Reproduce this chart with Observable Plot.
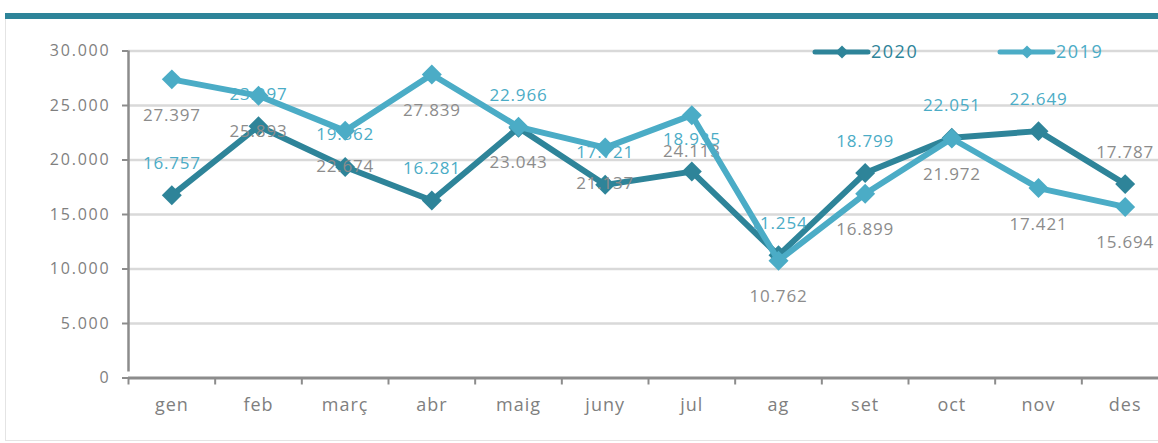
<!DOCTYPE html>
<html>
<head>
<meta charset="utf-8">
<script src="https://cdn.jsdelivr.net/npm/d3@7"></script>
<script src="https://cdn.jsdelivr.net/npm/@observablehq/plot@0.6"></script>
<style>
  html, body { margin: 0; padding: 0; background: #fff; overflow: hidden; }
  #wrap { position: relative; width: 1158px; height: 443px; overflow: hidden; font-family: "Open Sans", sans-serif; }
  #topbar { position: absolute; left: 5px; top: 13px; width: 1153px; height: 6px; background: #2E8499; }
  #lborder { position: absolute; left: 5px; top: 19px; width: 1px; height: 421px; background: #e4e4e4; }
  #bborder { position: absolute; left: 5px; top: 440px; width: 1153px; height: 1px; background: #e4e4e4; }
  #chart { position: absolute; left: 0; top: 0; }
  #legend { position: absolute; left: 0; top: 0; }
  svg text { letter-spacing: 0.8px; }
  g[aria-label="y-axis tick label"] text { letter-spacing: 1.8px; }
  g[aria-label="x-axis tick label"] text { letter-spacing: 1px; }
</style>
</head>
<body>
<div id="wrap">
  <div id="topbar"></div>
  <div id="lborder"></div>
  <div id="bborder"></div>
  <div id="chart"></div>
  <svg id="legend" width="1158" height="443"></svg>
</div>
<script>
const months = ["gen","feb","març","abr","maig","juny","jul","ag","set","oct","nov","des"];
const values2020 = [16757,23097,19362,16281,22966,17721,18935,11254,18799,22051,22649,17787];
const values2019 = [27397,25893,22674,27839,23043,21137,24113,10762,16899,21972,17421,15694];
const yTicks = [0,5000,10000,15000,20000,25000,30000];
const seriesNames = ["2020","2019"];

const dark = "#2E8499";
const light = "#4BACC6";
const grayLabel = "#8c8c8c";
const axisGray = "#7f7f7f";

const fmt = n => d3.format(",")(n).replace(/,/g, ".");

const rows = months.map((m, i) => ({m, i, x: i + 0.5, v2020: values2020[i], v2019: values2019[i]}));

const chart = Plot.plot({
  width: 1158,
  height: 443,
  marginTop: 50.5,
  marginBottom: 65.5,
  marginLeft: 128,
  marginRight: 0,
  style: {fontFamily: "'Open Sans', sans-serif", background: "transparent", overflow: "visible"},
  x: {type: "linear", domain: [0, 12], range: [128, 1168]},
  y: {domain: [0, 30000]},
  marks: [
    Plot.ruleY(yTicks.filter(t => t > 0), {stroke: "#d9d9d9", strokeWidth: 2.5}),
    Plot.ruleX([0], {y1: 0, y2: 30000, insetTop: -6, stroke: "#8c8c8c", strokeWidth: 2.5}),
    Plot.ruleY([0], {stroke: "#8c8c8c", strokeWidth: 3}),
    Plot.axisY({ticks: yTicks, tickSize: 6, tickPadding: 12, tickFormat: fmt, fontSize: 16,
      stroke: "#8c8c8c", strokeWidth: 2, fill: axisGray, label: null}),
    Plot.axisX({ticks: d3.range(0, 12), tickSize: 7, tickFormat: () => "", stroke: "#8c8c8c", strokeWidth: 2, label: null}),
    Plot.axisX({ticks: d3.range(0, 12).map(i => i + 0.5), tickSize: 0, tickPadding: 20,
      tickFormat: d => months[Math.floor(d)], fontSize: 18, fill: axisGray, label: null}),
    Plot.line(rows, {x: "x", y: "v2020", stroke: dark, strokeWidth: 6, strokeLinejoin: "round"}),
    Plot.dot(rows, {x: "x", y: "v2020", symbol: "diamond2", r: 9, fill: dark, stroke: "none"}),
    Plot.text(rows.filter(d => d.m !== "des"), {x: "x", y: "v2020", text: d => fmt(d.v2020), dy: -32, fill: light, fontSize: 17}),
    Plot.text(rows.filter(d => d.m === "des"), {x: "x", y: "v2020", text: d => fmt(d.v2020), dy: -32, fill: grayLabel, fontSize: 17}),
    Plot.text(rows, {x: "x", y: "v2019", text: d => fmt(d.v2019), dy: 36, fill: grayLabel, fontSize: 17}),
    Plot.line(rows, {x: "x", y: "v2019", stroke: light, strokeWidth: 6, strokeLinejoin: "round"}),
    Plot.dot(rows, {x: "x", y: "v2019", symbol: "diamond2", r: 9, fill: light, stroke: "none"})
  ]
});
document.getElementById("chart").appendChild(chart);

// Legend
const lg = d3.select("#legend");
const legendItems = [
  {name: seriesNames[0], color: dark, x0: 815},
  {name: seriesNames[1], color: light, x0: 1000}
];
legendItems.forEach(it => {
  lg.append("line").attr("x1", it.x0).attr("x2", it.x0 + 53).attr("y1", 52).attr("y2", 52)
    .attr("stroke", it.color).attr("stroke-width", 5).attr("stroke-linecap", "round");
  lg.append("path").attr("d", d3.symbol(d3.symbolDiamond2, 110)())
    .attr("transform", `translate(${it.x0 + 27},52)`).attr("fill", it.color);
  lg.append("text").attr("x", it.x0 + 56).attr("y", 52).attr("dy", "0.35em")
    .attr("fill", it.color).attr("font-size", 18).attr("font-family", "'Open Sans', sans-serif")
    .style("letter-spacing", "1.5px").text(it.name);
});
</script>
</body>
</html>
